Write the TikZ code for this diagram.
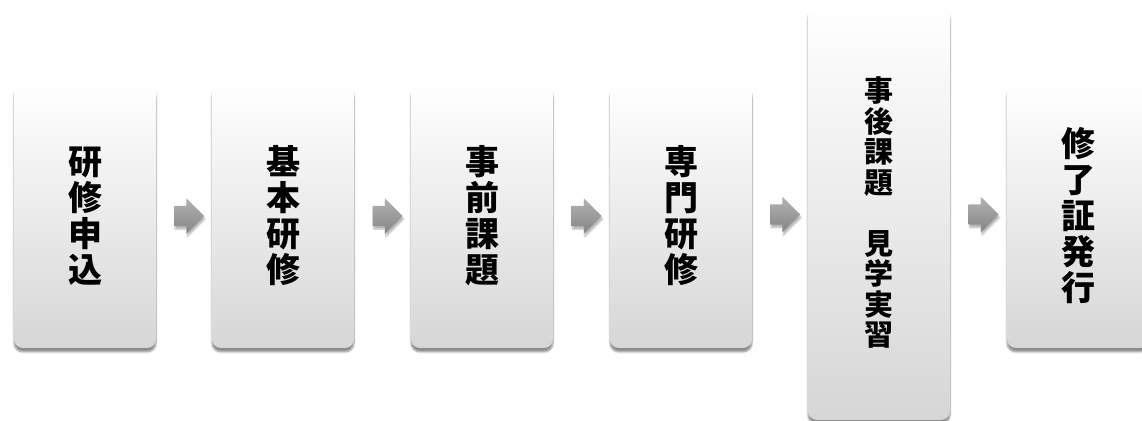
\documentclass[tikz,border=0pt]{standalone}
\usepackage{fontspec}
\newfontfamily\jpfont{Noto Sans CJK JP}
\usetikzlibrary{shapes.arrows,shadows.blur,calc}
\definecolor{boxtop}{rgb}{1.0,1.0,1.0}
\definecolor{boxbot}{rgb}{0.84,0.84,0.84}
\definecolor{arrtop}{rgb}{0.70,0.70,0.70}
\definecolor{arrbot}{rgb}{0.52,0.52,0.52}
\tikzset{
  stage/.style={rectangle,rounded corners=9bp,minimum width=142bp,minimum height=264bp,
    inner sep=0pt,top color=boxtop,bottom color=boxbot,align=center,
    blur shadow={shadow xshift=0bp,shadow yshift=-4bp,shadow blur steps=6,shadow opacity=45},
    font=\jpfont\bfseries\fontsize{34bp}{36bp}\selectfont},
  flow/.style={single arrow,single arrow head extend=7.5bp,minimum height=30bp,
    minimum width=35bp,inner xsep=0pt,inner ysep=10bp,top color=arrtop,bottom color=arrbot,
    blur shadow={shadow xshift=1bp,shadow yshift=-3bp,shadow blur steps=4,shadow opacity=30}},
}
\begin{document}
\begin{tikzpicture}
  \useasboundingbox (0bp,0bp) rectangle (1142bp,421bp);
%%
  % Node: apply
  \node[stage] (apply) at (85bp,205bp) {研\\修\\申\\込};
  % Node: basic
  \node[stage] (basic) at (283bp,205bp) {基\\本\\研\\修};
  % Node: pretask
  \node[stage] (pretask) at (482bp,205bp) {事\\前\\課\\題};
  % Node: special
  \node[stage] (special) at (681bp,205bp) {専\\門\\研\\修};
  % Node: posttask
  \node[stage,minimum height=414bp,font=\jpfont\bfseries\fontsize{29bp}{30.5bp}\selectfont]
    (posttask) at (879bp,208bp) {事\\後\\課\\題\\　\\見\\学\\実\\習};
  % Node: certificate
  \node[stage] (certificate) at (1078bp,205bp) {修\\了\\証\\発\\行};
%%
  % Edge: apply -> basic
  \node[flow] (a1) at ($(apply.east)!0.5!(basic.west)$) {};
  % Edge: basic -> pretask
  \node[flow] (a2) at ($(basic.east)!0.5!(pretask.west)$) {};
  % Edge: pretask -> special
  \node[flow] (a3) at ($(pretask.east)!0.5!(special.west)$) {};
  % Edge: special -> posttask
  \node[flow] (a4) at ($(special.east)!0.5!(posttask.west)$) {};
  % Edge: posttask -> certificate
  \node[flow] (a5) at ($(posttask.east)!0.5!(certificate.west)$) {};
%
\end{tikzpicture}
\end{document}
